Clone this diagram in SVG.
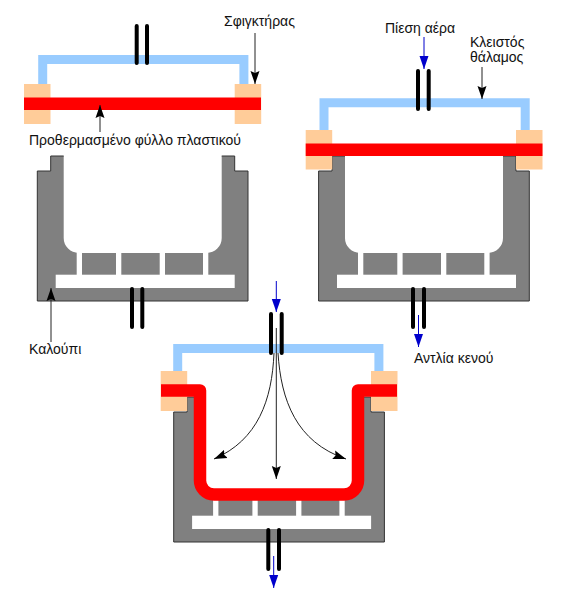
<svg xmlns="http://www.w3.org/2000/svg" xmlns:xlink="http://www.w3.org/1999/xlink" width="566" height="589" viewBox="0 0 566 589">
<style>
text{font-family:"Liberation Sans",Arial,sans-serif;font-size:14px;fill:#111}
.air{fill:none;stroke:#99ccff;stroke-width:9}
.clamp{fill:#ffcc99}
.sheet{fill:#ff0000}
.mold{fill:#808080}
.edge{fill:none;stroke:#333;stroke-width:1}
.chan{fill:#fff}
.valve{stroke:#000;stroke-width:4;stroke-linecap:round;fill:none}
.ar{fill:none;stroke:#222;stroke-width:1;marker-end:url(#ah)}
.ab{fill:none;stroke:#0000cc;stroke-width:1;marker-end:url(#ab)}
</style>
<defs>
<marker id="ah" markerUnits="userSpaceOnUse" markerWidth="15" markerHeight="11" refX="13" refY="5" orient="auto"><path d="M0,0.5L13,5L0,9.5L2,5Z" fill="#000"/></marker>
<marker id="ab" markerUnits="userSpaceOnUse" markerWidth="15" markerHeight="11" refX="13" refY="5" orient="auto"><path d="M0,0.5L13,5L0,9.5Z" fill="#0000cc"/></marker>
<g id="moldShape">
<path class="mold" d="M50.7,156H63.7V238A15,15 0 0 0 78.7,253H206.7A15,15 0 0 0 221.7,238V156H234.7V171H248V301H37.3V171H50.7Z"/>
<path class="edge" d="M63.7,156H50.7V171H37.3V301H248V171H234.7V156H221.7"/>
<rect class="chan" x="76.7" y="252" width="5.3" height="23"/>
<rect class="chan" x="116" y="252" width="5.3" height="23"/>
<rect class="chan" x="159.7" y="252" width="5.3" height="23"/>
<rect class="chan" x="203" y="252" width="5.3" height="23"/>
<rect class="chan" x="55.7" y="274.7" width="179" height="13.3"/>
</g>
</defs>
<rect width="566" height="589" fill="#fff"/>
<g id="panel-1">
<use href="#moldShape" xlink:href="#moldShape"/>
<path class="air" d="M42.7,84V59.5H243.9V84"/>
<rect class="clamp" x="24" y="84" width="26.5" height="40"/>
<rect class="clamp" x="234.7" y="84" width="26.5" height="40"/>
<rect class="sheet" x="24" y="97.5" width="237" height="12.5"/>
</g>
<g id="panel-2">
<use href="#moldShape" xlink:href="#moldShape" x="281.3"/>
<path class="air" d="M324,130V102.8H525.2V130"/>
<rect class="clamp" x="305.7" y="130" width="26.5" height="39.5"/>
<rect class="clamp" x="516" y="130" width="26.5" height="39.5"/>
<rect class="sheet" x="305.7" y="143.5" width="236.8" height="12.5"/>
</g>
<g id="panel-3">
<use href="#moldShape" xlink:href="#moldShape" x="136.4" y="241"/>
<path class="air" d="M177.7,371V348.5H378.9V371"/>
<rect class="clamp" x="160.7" y="371" width="26.5" height="40"/>
<rect class="clamp" x="371" y="371" width="26.5" height="40"/>
<path d="M161,390.5H200V480A14,14 0 0 0 214,494.5H344A14,14 0 0 0 358,480V390.5H397" fill="none" stroke="#ff0000" stroke-width="12.5" stroke-linejoin="round"/>
</g>
<g id="connectors">
<path class="valve" d="M136.7,26V63M147,26V63"/>
<path class="valve" d="M132,289V327M142.3,289V327"/>
<path class="valve" d="M418,71V109M428.7,71V109"/>
<path class="valve" d="M413,289V327M424,289V327"/>
<path class="valve" d="M271,314V353M281.7,314V353"/>
<path class="valve" d="M268.3,530V569M279,530V569"/>
<path class="ar" d="M255,33V84"/>
<path class="ar" d="M100,132V105"/>
<path class="ar" d="M51,342V288"/>
<path class="ar" d="M482,67V99"/>
<path class="ab" d="M424,37V69"/>
<path class="ab" d="M418.5,315V347"/>
<path class="ab" d="M276.3,281V312"/>
<path class="ab" d="M273.7,556V588"/>
<path class="ar" d="M276.3,328V479"/>
<path class="ar" d="M274,353C272,400 258,440 214,459"/>
<path class="ar" d="M278,353C281,400 296,442 346,459"/>
</g>
<g id="labels">
<text x="224" y="26">Σφιγκτήρας</text>
<text x="29" y="145">Προθερμασμένο φύλλο πλαστικού</text>
<text x="29" y="354">Καλούπι</text>
<text x="385" y="33">Πίεση αέρα</text>
<text x="470" y="47">Κλειστός</text>
<text x="470" y="62">θάλαμος</text>
<text x="414" y="363">Αντλία κενού</text>
</g>
</svg>
